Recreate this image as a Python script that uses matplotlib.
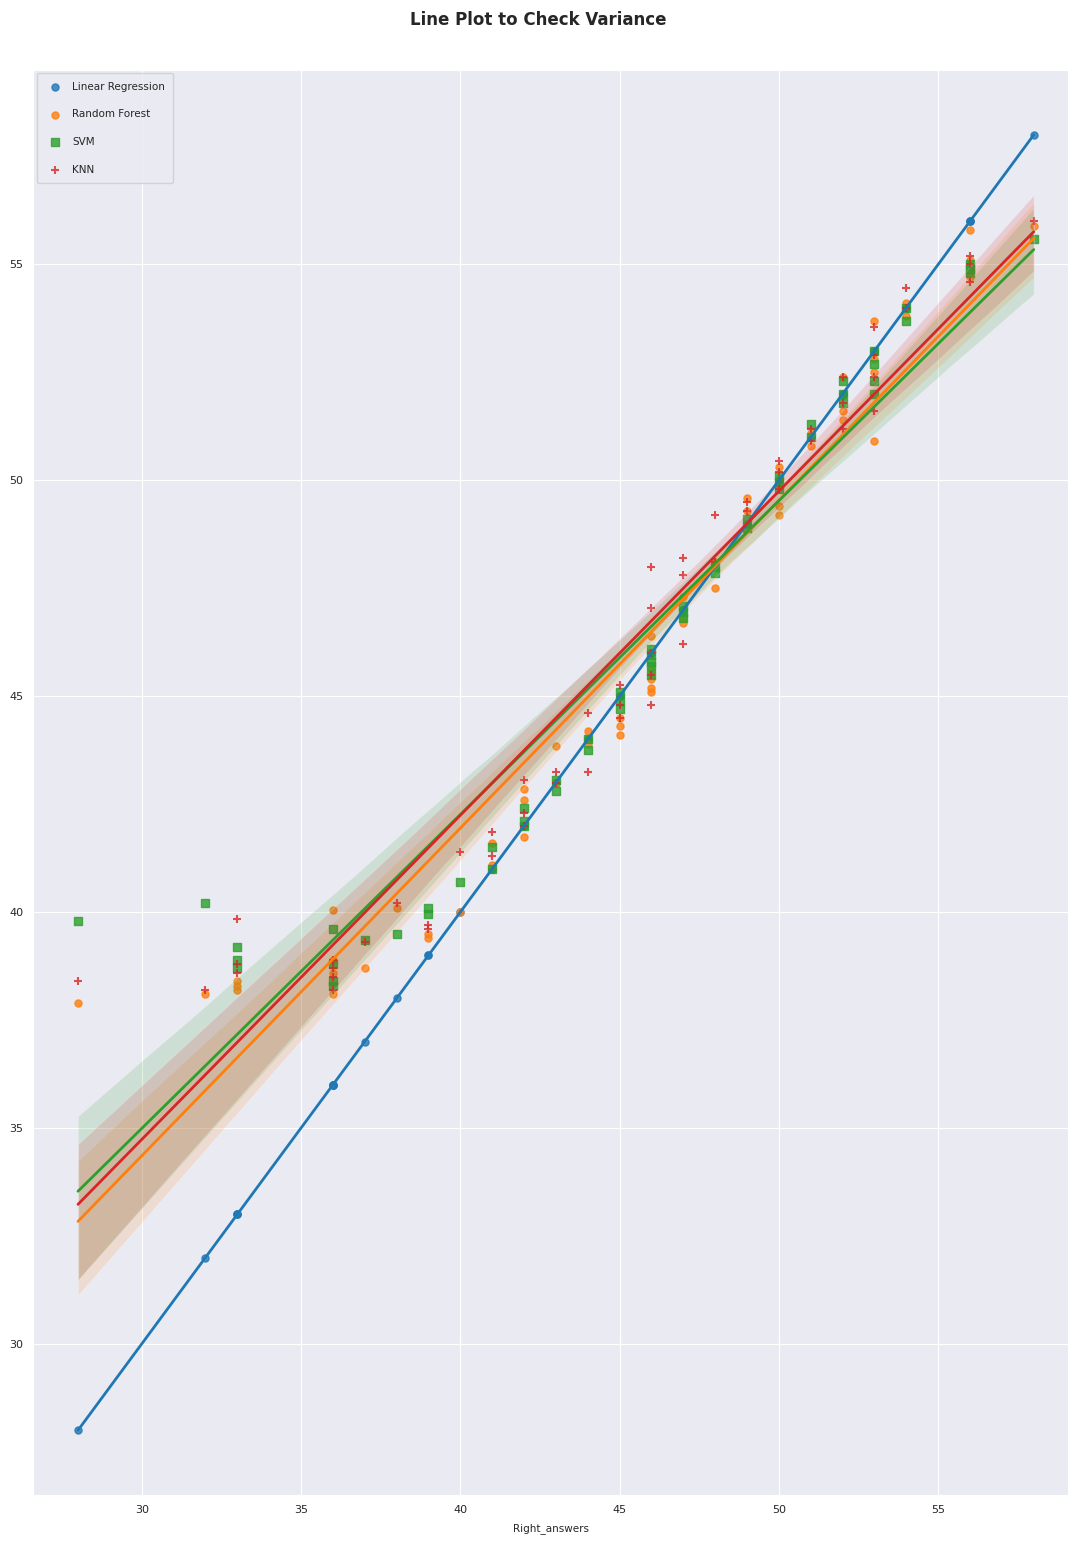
import numpy as np
import pandas as pd
import matplotlib
matplotlib.use("Agg")
import matplotlib.pyplot as plt
import seaborn as sns

# test-set targets (one entry per sample) and model predictions
right_answers = [28, 32, 33, 33, 33, 36, 36, 36, 36, 37, 38, 39, 39, 40, 41, 41,
                 42, 42, 42, 43, 43, 44, 44, 45, 45, 45, 46, 46, 46, 46, 46,
                 47, 47, 47, 48, 48, 49, 49, 50, 50, 50, 51, 51, 52, 52, 52,
                 53, 53, 53, 53, 54, 54, 56, 56, 56, 58]
lin_reg = [28, 32, 33, 33, 33, 36, 36, 36, 36, 37, 38, 39, 39, 40, 41, 41,
           42, 42, 42, 43, 43, 44, 44, 45, 45, 45, 46, 46, 46, 46, 46,
           47, 47, 47, 48, 48, 49, 49, 50, 50, 50, 51, 51, 52, 52, 52,
           53, 53, 53, 53, 54, 54, 56, 56, 56, 58]
rand_forest = [37.9, 38.1, 38.3, 38.4, 38.2, 40.05, 38.9, 38.6, 38.1, 38.7, 40.1,
               39.5, 39.4, 40.0, 41.6, 41.1, 42.85, 42.6, 41.75, 43.85, 43.0,
               44.2, 43.9, 44.5, 44.3, 44.1, 46.4, 45.6, 45.4, 45.2, 45.1,
               47.3, 46.8, 46.7, 48.1, 47.5, 49.6, 49.3, 50.3, 49.4, 49.2,
               51.1, 50.8, 52.4, 51.6, 51.4, 53.7, 52.8, 52.5, 50.9,
               54.1, 53.8, 55.8, 55.1, 54.7, 55.9]
svm = [39.8, 40.2, 39.2, 38.9, 38.7, 39.6, 38.8, 38.4, 38.3, 39.35, 39.5,
       40.1, 39.95, 40.7, 41.5, 41.0, 42.4, 42.1, 42.0, 43.05, 42.8,
       44.0, 43.75, 45.1, 44.9, 44.7, 46.1, 45.95, 45.8, 45.7, 45.5,
       47.1, 46.95, 46.8, 48.0, 47.85, 49.1, 48.9, 50.1, 49.95, 49.8,
       51.3, 51.0, 52.3, 52.0, 51.8, 53.0, 52.7, 52.3, 52.0,
       54.0, 53.7, 55.0, 54.9, 54.8, 55.6]
knn = [38.4, 38.2, 39.85, 38.8, 38.6, 38.7, 38.9, 38.5, 38.2, 39.3, 40.2,
       39.6, 39.7, 41.4, 41.85, 41.3, 43.05, 42.3, 42.0, 43.25, 43.0,
       44.6, 43.25, 45.25, 44.8, 44.5, 48.0, 47.05, 46.0, 45.5, 44.8,
       48.2, 47.8, 46.2, 49.2, 48.1, 49.5, 49.3, 50.45, 50.2, 49.8,
       51.2, 50.9, 52.4, 51.8, 51.2, 53.55, 52.9, 52.4, 51.6,
       54.45, 54.0, 55.2, 55.0, 54.6, 56.0]

models = ["Linear Regression", "Random Forest", "SVM", "KNN"]
preds = [lin_reg, rand_forest, svm, knn]
markers = ["o", "o", "s", "+"]
colors = ["#1f77b4", "#ff7f0e", "#2ca02c", "#d62728"]

sns.set_style("darkgrid")
plt.rcParams["font.family"] = ["DejaVu Sans"]

fig = plt.figure(figsize=(10.77, 15.58), dpi=100)
ax = fig.add_axes([0.031, 0.0404, 0.9605, 0.9146])

df = pd.DataFrame({"Right_answers": right_answers})
for name, p, m, c in zip(models, preds, markers, colors):
    df[name] = p
    sns.regplot(data=df, x="Right_answers", y=name, marker=m, color=c,
                label=name, ax=ax, seed=0, scatter_kws={"s": 26},
                line_kws={"lw": 2})

ax.set_xlim(26.6, 59.07)
ax.set_ylim(26.5, 59.5)
ax.set_xticks([30, 35, 40, 45, 50, 55])
ax.set_yticks([30, 35, 40, 45, 50, 55])
ax.tick_params(labelsize=8)
ax.set_ylabel("")
ax.set_xlabel("Right_answers", fontsize=7.5, labelpad=6)
ax.legend(loc="upper left", fontsize=7.5, labelspacing=1.7, borderpad=0.8,
          handletextpad=0.6, borderaxespad=0.3)
fig.suptitle("Line Plot to Check Variance", fontsize=12, fontweight="bold", y=0.993)

fig.savefig("out.png", dpi=100)
